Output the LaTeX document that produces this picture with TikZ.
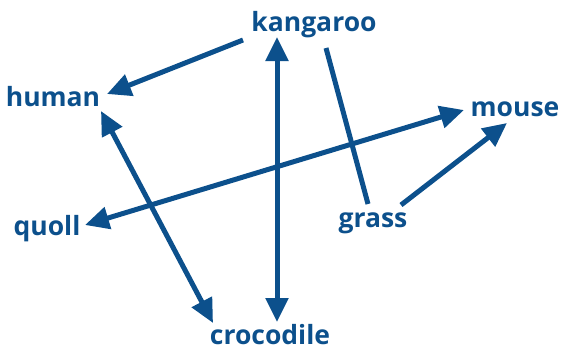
\documentclass[tikz,border=0pt]{standalone}
\usepackage{fontspec}
\setmainfont{Open Sans}
\usetikzlibrary{arrows.meta}
\definecolor{fw}{RGB}{12,80,140}
\begin{document}
\begin{tikzpicture}[x=1pt,y=-1pt,
  lbl/.style={text=fw,font=\bfseries\fontsize{26.5}{30}\selectfont,inner sep=0pt,anchor=base},
  link/.style={draw=fw,line width=5pt},
  tipend/.style={-{Triangle[length=24pt,width=22pt]}},
  tipboth/.style={{Triangle[length=24pt,width=22pt]}-{Triangle[length=24pt,width=22pt]}}]
\useasboundingbox (0,0) rectangle (561,349);
\node[lbl] (kangaroo) at (314,31) {kangaroo};
\node[lbl] (human) at (53,106) {human};
\node[lbl] (mouse) at (515,116) {mouse};
\node[lbl] (quoll) at (47,235) {quoll};
\node[lbl] (grass) at (373,227) {grass};
\node[lbl] (crocodile) at (270,344) {crocodile};
\draw[link,tipend] ([shift={(-71,9)}]kangaroo.base) -- ([shift={(54,-12)}]human.base);
\draw[link,tipboth] ([shift={(48,5)}]human.base) -- ([shift={(-57,-21)}]crocodile.base);
\draw[link,tipboth] ([shift={(-37,6)}]kangaroo.base) -- ([shift={(7,-22)}]crocodile.base);
\draw[link] ([shift={(12,17)}]kangaroo.base) -- ([shift={(-5,-23)}]grass.base);
\draw[link,tipboth] ([shift={(38,-10)}]quoll.base) -- ([shift={(-51,-6)}]mouse.base);
\draw[link,tipend] ([shift={(28,-22)}]grass.base) -- ([shift={(-8,7)}]mouse.base);
\end{tikzpicture}
\end{document}
